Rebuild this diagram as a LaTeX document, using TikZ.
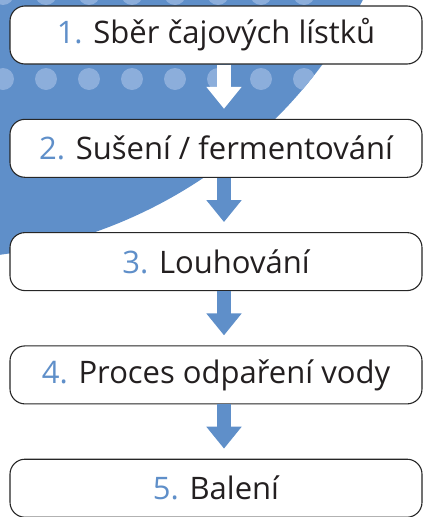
\documentclass[tikz,border=0pt]{standalone}
\usepackage{fontspec}
\setmainfont{Open Sans}
\usetikzlibrary{arrows.meta}
\definecolor{tea blue}{HTML}{5F8FC9}
\definecolor{dot blue}{HTML}{8CAEDB}
\definecolor{step text}{HTML}{231F20}
\tikzset{>=latex}
\tikzset{
  stepbox/.style={draw=black!85, line width=1.1pt, fill=white, rounded corners=15pt,
    minimum width=412pt, minimum height=58pt, inner sep=0pt,
    font=\fontsize{31}{36}\selectfont, text=step text},
  flow/.style={line width=14pt, -{Triangle[width=34pt,length=22pt]}, shorten >=10pt}
}
\newcommand{\stepno}[1]{\textcolor{tea blue}{#1.}}

\begin{document}
\begin{tikzpicture}[x=1pt,y=-1pt]
        \useasboundingbox (0,0) rectangle (424,517);
        \begin{scope}
            \clip (0,0) rectangle (424,517);
            \fill[tea blue] (-64,-222) circle (481pt);
            \clip (-64,-222) circle (481pt);
            \foreach \y in {-6, 79} {
                \foreach \x in {3, 46, ..., 304} {
                    \fill[dot blue] (\x,\y) circle (11pt);
                }
            }
        \end{scope}
        \node[stepbox] (b1) at (216,35) {\stepno{1} Sběr čajových lístků};
        \node[stepbox] (b2) at (216,148.3) {\stepno{2} Sušení / fermentování};
        \node[stepbox] (b3) at (216,261.6) {\stepno{3} Louhování};
        \node[stepbox] (b4) at (216,374.9) {\stepno{4} Proces odpaření vody};
        \node[stepbox] (b5) at (216,488.2) {\stepno{5} Balení};
        \draw[flow, white] ([xshift=8pt]b1.south) -- ([xshift=8pt]b2.north);
        \foreach \a/\b in {b2/b3, b3/b4, b4/b5} {
            \draw[flow, tea blue] ([xshift=8pt]\a.south) -- ([xshift=8pt]\b.north);
        }
    \end{tikzpicture}
\end{document}
